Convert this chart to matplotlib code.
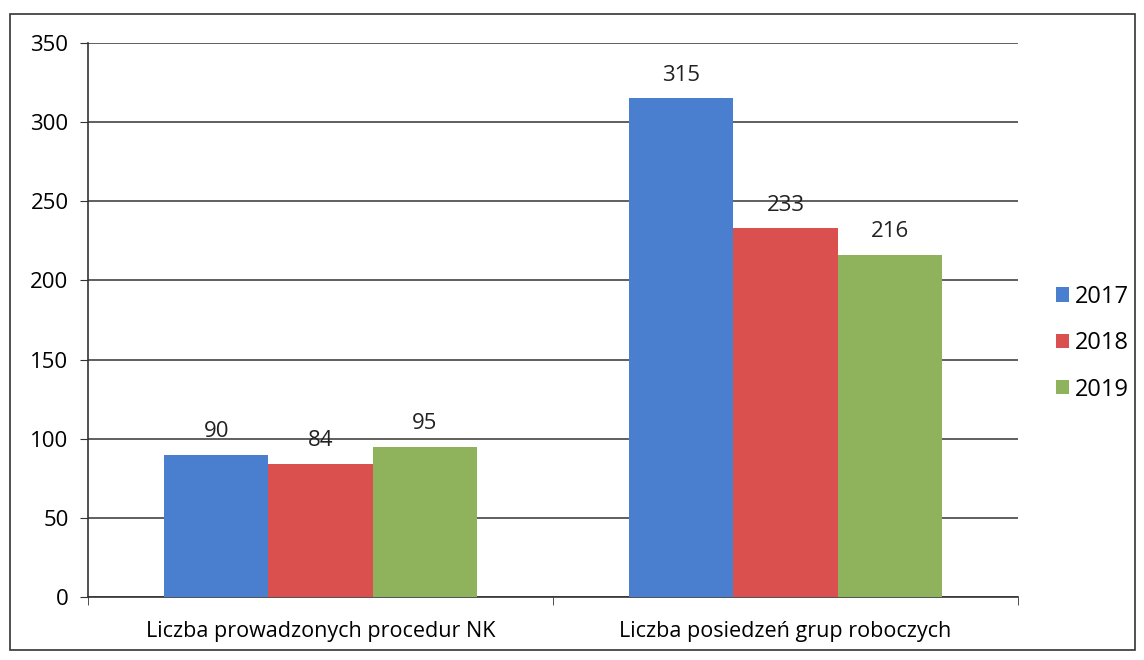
import matplotlib.pyplot as plt
import numpy as np
from matplotlib.patches import Rectangle

categories = ['Liczba prowadzonych procedur NK', 'Liczba posiedzeń grup roboczych']
years = ['2017', '2018', '2019']
values_2017 = [90, 315]
values_2018 = [84, 233]
values_2019 = [95, 216]
colors = ['#4a7fd0', '#d9504f', '#8fb35c']

plt.rcParams['font.family'] = ['Open Sans', 'DejaVu Sans']

fig = plt.figure(figsize=(11.44, 6.6), dpi=100)
ax = fig.add_axes([88 / 1144, 63 / 660, (1018 - 88) / 1144, (597 - 43) / 660])

x = np.arange(len(categories))
width = 0.224
series = [values_2017, values_2018, values_2019]
for i, (vals, yr, c) in enumerate(zip(series, years, colors)):
    pos = x + (i - 1) * width
    bars = ax.bar(pos, vals, width, color=c, label=yr, zorder=3)
    for b, v in zip(bars, vals):
        ax.text(b.get_x() + b.get_width() / 2, v + 8, str(v), ha='center', va='bottom',
                fontsize=16, color='#222222', zorder=4)

ax.set_ylim(0, 350)
ax.set_xlim(-0.5, 1.5)
ax.set_yticks(range(0, 351, 50))
ax.yaxis.grid(True, color='#444444', linewidth=1.2, zorder=0)
ax.set_axisbelow(True)
ax.set_xticks([-0.5, 0.5, 1.5], minor=True)
ax.set_xticks(x)
ax.set_xticklabels(categories, fontsize=15.5)
ax.tick_params(axis='x', which='major', length=0, pad=17)
ax.tick_params(axis='x', which='minor', length=6, direction='out', color='#333333')
ax.tick_params(axis='y', labelsize=16, length=6, color='#333333', pad=8)
for s in ['top', 'right']:
    ax.spines[s].set_visible(False)
ax.spines['left'].set_color('#333333')
ax.spines['bottom'].set_color('#333333')
ax.spines['left'].set_linewidth(1.2)
ax.spines['bottom'].set_linewidth(1.2)

ax.legend(loc='center left', bbox_to_anchor=(1.023, 0.458), frameon=False, fontsize=17,
          handlelength=0.55, handleheight=0.55, labelspacing=0.95, handletextpad=0.25,
          borderpad=0.2)

fig.patches.append(Rectangle((10 / 1144, 10 / 660), 1125 / 1144, 636 / 660,
                             transform=fig.transFigure, fill=False,
                             edgecolor='#333333', linewidth=1.2))

fig.savefig('out.png', dpi=100)
